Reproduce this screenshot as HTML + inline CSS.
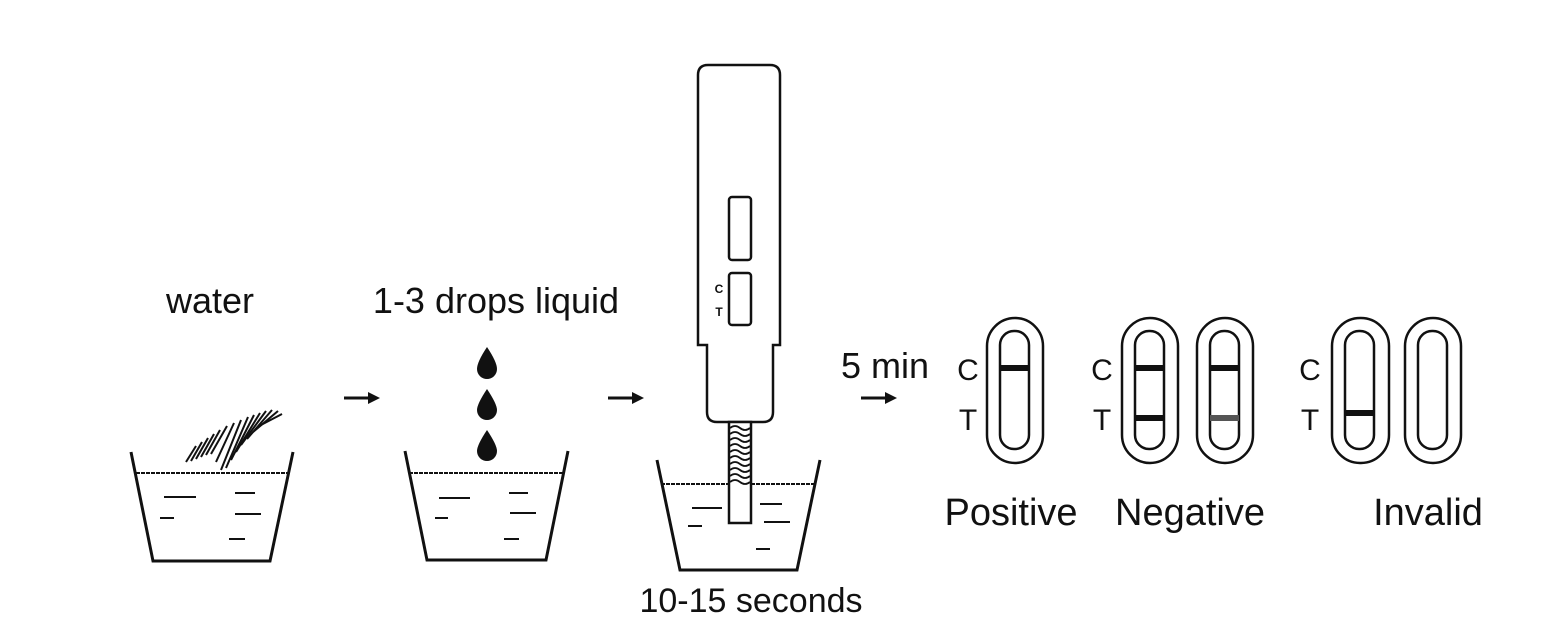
<!DOCTYPE html>
<html><head><meta charset="utf-8"><style>
html,body{margin:0;padding:0;background:#fff;}
svg{display:block;}
text{font-family:"Liberation Sans",Arial,sans-serif;fill:#111;}
</style></head><body>
<svg width="1558" height="626" viewBox="0 0 1558 626" xmlns="http://www.w3.org/2000/svg">
<defs>
<marker id="ah" markerWidth="12" markerHeight="12" refX="9" refY="6" orient="auto" markerUnits="userSpaceOnUse">
<path d="M0,0 L12,6 L0,12 Z" fill="#111"/></marker>
</defs>
<g stroke="#111" fill="none">
<!-- Beaker 1 -->
<path d="M131,452 L153,561 L270,561 L293,452" stroke-width="3"/>
<line x1="136" y1="473" x2="289" y2="473" stroke-width="2" stroke-dasharray="4,1"/>
<g stroke-width="2"><line x1="164" y1="497" x2="196" y2="497"/><line x1="235" y1="493" x2="255" y2="493"/><line x1="160" y1="518" x2="174" y2="518"/><line x1="235" y1="514" x2="261" y2="514"/><line x1="229" y1="539" x2="245" y2="539"/></g>
<!-- powder hatching -->
<g stroke-width="2">
<line x1="186" y1="462" x2="196" y2="446"/><line x1="191" y1="461" x2="202" y2="442"/><line x1="196" y1="459" x2="208" y2="438"/><line x1="201" y1="457" x2="214" y2="434"/><line x1="206" y1="455" x2="220" y2="430"/><line x1="211" y1="454" x2="227" y2="426"/><line x1="216" y1="462" x2="234" y2="423"/><line x1="221" y1="470" x2="241" y2="420"/><line x1="226" y1="468" x2="248" y2="417"/><line x1="231" y1="460" x2="254" y2="415"/><line x1="236" y1="452" x2="260" y2="413"/><line x1="241" y1="445" x2="266" y2="411"/><line x1="247" y1="439" x2="272" y2="410"/><line x1="253" y1="432" x2="278" y2="411"/><line x1="259" y1="426" x2="282" y2="414"/>
</g>
<!-- Beaker 2 -->
<path d="M405,451 L427,560 L546,560 L568,451" stroke-width="3"/>
<line x1="409" y1="473" x2="563" y2="473" stroke-width="2" stroke-dasharray="4,1"/>
<g stroke-width="2"><line x1="439" y1="498" x2="470" y2="498"/><line x1="509" y1="493" x2="528" y2="493"/><line x1="435" y1="518" x2="448" y2="518"/><line x1="510" y1="513" x2="536" y2="513"/><line x1="504" y1="539" x2="519" y2="539"/></g>
<!-- Beaker 3 -->
<path d="M657,460 L680,570 L797,570 L820,460" stroke-width="3"/>
<line x1="661" y1="484" x2="816" y2="484" stroke-width="2" stroke-dasharray="4,1"/>
<g stroke-width="2"><line x1="692" y1="508" x2="722" y2="508"/><line x1="760" y1="504" x2="782" y2="504"/><line x1="688" y1="526" x2="702" y2="526"/><line x1="764" y1="522" x2="790" y2="522"/><line x1="756" y1="549" x2="770" y2="549"/></g>
<!-- Device -->
<path d="M708,65 L770,65 Q780,65 780,75 L780,345 L773,345 L773,412 Q773,422 763,422 L717,422 Q707,422 707,412 L707,345 L698,345 L698,75 Q698,65 708,65 Z" stroke-width="2.5" fill="#fff"/>
<rect x="729" y="197" width="22" height="63" rx="3" stroke-width="2.5"/>
<rect x="729" y="273" width="22" height="52" rx="3" stroke-width="2.5"/>
<rect x="729" y="422" width="22" height="101" stroke-width="2.5" fill="#fff"/>
<g stroke-width="1.8">
<path d="M730,428 q5,-4 10,0 t10,0"/><path d="M730,434 q5,-4 10,0 t10,0"/><path d="M730,440 q5,-4 10,0 t10,0"/><path d="M730,446 q5,-4 10,0 t10,0"/><path d="M730,452 q5,-4 10,0 t10,0"/><path d="M730,458 q5,-4 10,0 t10,0"/><path d="M730,464 q5,-4 10,0 t10,0"/><path d="M730,470 q5,-4 10,0 t10,0"/><path d="M730,476 q5,-4 10,0 t10,0"/><path d="M730,482 q5,-4 10,0 t10,0"/>
</g>
<!-- arrows -->
<line x1="344" y1="398" x2="377" y2="398" stroke-width="3" marker-end="url(#ah)"/>
<line x1="608" y1="398" x2="641" y2="398" stroke-width="3" marker-end="url(#ah)"/>
<line x1="861" y1="398" x2="894" y2="398" stroke-width="3" marker-end="url(#ah)"/>
<!-- cards -->
<g stroke-width="2.5">
<rect x="987" y="318" width="56" height="145" rx="28"/><rect x="1000" y="331" width="29" height="118" rx="14"/>
<rect x="1122" y="318" width="56" height="145" rx="28"/><rect x="1135" y="331" width="29" height="118" rx="14"/>
<rect x="1197" y="318" width="56" height="145" rx="28"/><rect x="1210" y="331" width="29" height="118" rx="14"/>
<rect x="1332" y="318" width="57" height="145" rx="28"/><rect x="1345" y="331" width="29" height="118" rx="14"/>
<rect x="1405" y="318" width="56" height="145" rx="28"/><rect x="1418" y="331" width="29" height="118" rx="14"/>
</g>
</g>
<!-- drops -->
<g fill="#111">
<path d="M487,347 Q477,362 477,369 A10,10 0 0 0 497,369 Q497,362 487,347 Z"/>
<path d="M487,389 Q477,404 477,410 A10,10 0 0 0 497,410 Q497,404 487,389 Z"/>
<path d="M487,430 Q477,445 477,451 A10,10 0 0 0 497,451 Q497,445 487,430 Z"/>
<rect x="1000" y="365" width="29" height="6"/>
<rect x="1135" y="365" width="29" height="6"/>
<rect x="1135" y="415" width="29" height="6"/>
<rect x="1210" y="365" width="29" height="6"/>
<rect x="1210" y="415" width="29" height="6" fill="#555"/>
<rect x="1345" y="410" width="29" height="6"/>
</g>
<text x="719" y="293" font-size="12" font-weight="bold" text-anchor="middle">C</text>
<text x="719" y="316" font-size="12" font-weight="bold" text-anchor="middle">T</text>
<text x="210" y="313" font-size="36" text-anchor="middle">water</text>
<text x="496" y="313" font-size="36" text-anchor="middle">1-3 drops liquid</text>
<text x="885" y="378" font-size="36" text-anchor="middle">5 min</text>
<text x="751" y="612" font-size="34" text-anchor="middle">10-15 seconds</text>
<g font-size="30" text-anchor="middle">
<text x="968" y="380">C</text><text x="968" y="430">T</text>
<text x="1102" y="380">C</text><text x="1102" y="430">T</text>
<text x="1310" y="380">C</text><text x="1310" y="430">T</text>
</g>
<g font-size="38" text-anchor="middle">
<text x="1011" y="525">Positive</text>
<text x="1190" y="525">Negative</text>
<text x="1428" y="525">Invalid</text>
</g>
</svg>
</body></html>
